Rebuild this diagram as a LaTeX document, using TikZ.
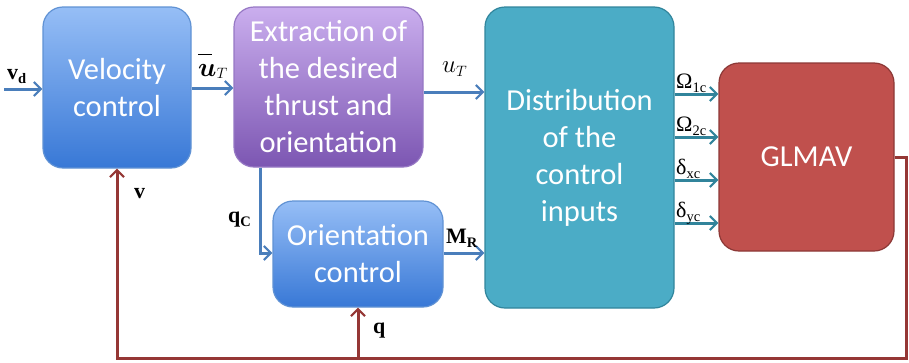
\RequirePackage{fix-cm}
\documentclass[tikz,border=0pt]{standalone}
\usepackage{amsmath,bm}
\usepackage{fontspec}
\setmainfont{Carlito}
\newfontfamily\lblfont{Liberation Serif}
\usetikzlibrary{arrows.meta}

\definecolor{velTop}{RGB}{150,190,246}
\definecolor{velBot}{RGB}{56,120,214}
\definecolor{velEdge}{RGB}{96,146,212}
\definecolor{extTop}{RGB}{202,174,238}
\definecolor{extBot}{RGB}{124,86,178}
\definecolor{extEdge}{RGB}{150,120,196}
\definecolor{distFill}{RGB}{75,172,198}
\definecolor{distEdge}{RGB}{49,133,156}
\definecolor{glmFill}{RGB}{192,80,77}
\definecolor{glmEdge}{RGB}{140,56,54}
\definecolor{sigBlue}{RGB}{74,126,187}
\definecolor{sigTeal}{RGB}{49,132,155}
\definecolor{fbRed}{RGB}{149,55,53}

\tikzset{
  block/.style={rounded corners=20pt, line width=1.2pt, text=white, align=center,
    inner sep=0pt, font=\fontsize{30.5}{37}\selectfont},
  bluebox/.style={block, draw=velEdge, top color=velTop, bottom color=velBot},
  purplebox/.style={block, draw=extEdge, top color=extTop, bottom color=extBot},
  tealbox/.style={block, draw=distEdge, fill=distFill},
  redbox/.style={block, draw=glmEdge, fill=glmFill},
  tip/.style={-{Straight Barb[length=7pt,width=14pt,line width=2.2pt]}},
  barrow/.style={tip, draw=sigBlue, line width=3pt},
  tarrow/.style={tip, draw=sigTeal, line width=3pt},
  fbline/.style={draw=fbRed, line width=3pt},
  fbarrow/.style={fbline, tip},
  lbl/.style={inner sep=0pt, text=black, font=\lblfont\fontsize{22}{22}\selectfont},
}
\newcommand{\subs}[1]{\raisebox{-4.5pt}{\fontsize{14.5}{14.5}\selectfont #1}}
\newcommand{\mathsub}[2]{\raisebox{-#1}{\fontsize{15}{15}\selectfont$#2$}}

\begin{document}
\begin{tikzpicture}[x=1pt,y=-1pt]
\useasboundingbox (0,0) rectangle (909,362);

% blocks
\node[bluebox, minimum width=148pt, minimum height=161pt] (vel) at (117,87.5) {Velocity\\control};
\node[purplebox, minimum width=189pt, minimum height=160pt] (ext) at (328.5,87) {Extraction of\\the desired\\thrust and\\orientation};
\node[tealbox, minimum width=189pt, minimum height=301pt] (dist) at (579.5,157.5) {Distribution\\of the\\control\\inputs};
\node[bluebox, minimum width=170pt, minimum height=106pt] (ori) at (358,254) {Orientation\\control};
\node[redbox, minimum width=175pt, minimum height=188pt] (glm) at (806.5,157) {GLMAV};

% helper points for the signal routes
\coordinate (vin) at (4,89);
\coordinate (ubar) at (200,88);
\coordinate (ut) at (450,92);
\coordinate (qc) at (260,253);
\coordinate (mr) at (460,253);
\coordinate (o1) at (690,94);
\coordinate (o2) at (690,137);
\coordinate (o3) at (690,180);
\coordinate (o4) at (690,223);
\coordinate (fbR) at (906,157);
\coordinate (fbBR) at (906,358.5);
\coordinate (fbBL) at (117,358.5);
\coordinate (fbBM) at (358,358.5);

% forward signals
\draw[barrow] (vin) -- (vin -| vel.west);
\draw[barrow] (ubar -| vel.east) -- (ubar -| ext.west);
\draw[barrow] (ut -| ext.east) -- (ut -| dist.west);
\draw[barrow] (qc |- ext.south) -- (qc) -- (qc -| ori.west);
\draw[barrow] (mr -| ori.east) -- (mr -| dist.west);
\draw[tarrow] (o1 -| dist.east) -- (o1 -| glm.west);
\draw[tarrow] (o2 -| dist.east) -- (o2 -| glm.west);
\draw[tarrow] (o3 -| dist.east) -- (o3 -| glm.west);
\draw[tarrow] (o4 -| dist.east) -- (o4 -| glm.west);

% feedback loop
\draw[fbarrow, line join=miter] (glm.east) -- (fbR) -- (fbBR) -- (fbBL) -- (vel.south);
\draw[fbarrow] (fbBM) -- (ori.south);

% signal labels
\node[lbl, anchor=base west, font=\fontsize{27}{27}\selectfont] (lub) at (198,76)
  {\rlap{\raisebox{21pt}{\rule{14pt}{1.3pt}}}$\bm{u}$\mathsub{2pt}{T}};
\node[lbl, anchor=base west] (lvd) at (7,79) {\bfseries v\subs{\bfseries d}};
\node[lbl, anchor=base west, font=\fontsize{25}{25}\selectfont] (lut) at (442,72)
  {$u$\mathsub{4pt}{T}};
\node[lbl, anchor=base west] (lv) at (134,198) {\bfseries v};
\node[lbl, anchor=base west] (lqc) at (228,222) {\bfseries q\subs{\bfseries C}};
\node[lbl, anchor=base west] (lmr) at (446,243) {\bfseries M\subs{\bfseries R}};
\node[lbl, anchor=base west] (lq) at (373,333) {\bfseries q};
\node[lbl, anchor=base west] (lo1) at (676,88) {Ω\subs{1c}};
\node[lbl, anchor=base west] (lo2) at (676,131) {Ω\subs{2c}};
\node[lbl, anchor=base west] (ld1) at (676,174) {δ\subs{xc}};
\node[lbl, anchor=base west] (ld2) at (676,217) {δ\subs{yc}};
\end{tikzpicture}
\end{document}
